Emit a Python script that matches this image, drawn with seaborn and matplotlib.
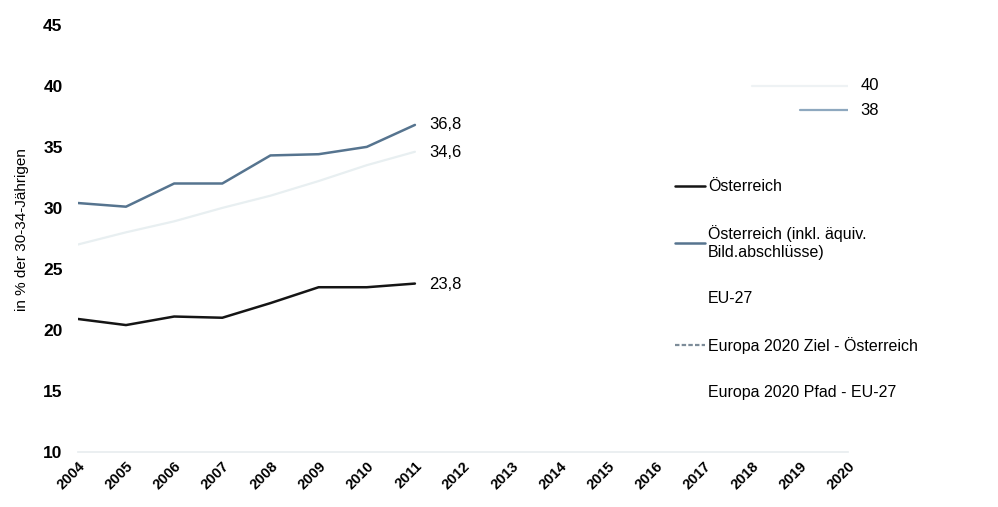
import pandas as pd
import seaborn as sns
import matplotlib.pyplot as plt
from matplotlib.lines import Line2D

# Werte
jahre = list(range(2004, 2012))
oesterreich = [20.9, 20.4, 21.1, 21.0, 22.2, 23.5, 23.5, 23.8]
oesterreich_inkl = [30.4, 30.1, 32.0, 32.0, 34.3, 34.4, 35.0, 36.8]
eu27 = [27.0, 28.0, 28.9, 30.0, 31.0, 32.2, 33.5, 34.6]

ziel_jahre = [2019, 2020]
ziel_oesterreich = [38, 38]
pfad_jahre = [2018, 2020]
pfad_eu27 = [40, 40]

x_ticks = list(range(2004, 2021))

sns.set_theme(style="white")
plt.rcParams['font.family'] = ['Liberation Sans', 'DejaVu Sans']
plt.rcParams['text.color'] = 'black'
plt.rcParams['axes.labelcolor'] = 'black'
plt.rcParams['xtick.color'] = 'black'
plt.rcParams['ytick.color'] = 'black'

fig = plt.figure(figsize=(9.98, 5.07), dpi=100)
ax = fig.add_axes([0.078, 0.1085, 0.772, 0.8425])

# gedaempfte Linien zuerst
sns.lineplot(x=jahre, y=eu27, ax=ax, color='#e8eff1', lw=1.6)
sns.lineplot(x=pfad_jahre, y=pfad_eu27, ax=ax, color='#eef2f4', lw=1.6)
sns.lineplot(x=ziel_jahre, y=ziel_oesterreich, ax=ax, color='#8ea8bf', lw=1.6)
sns.lineplot(x=jahre, y=oesterreich_inkl, ax=ax, color='#56748f', lw=1.8)
sns.lineplot(x=jahre, y=oesterreich, ax=ax, color='#151515', lw=1.8)

# Endwerte beschriften
ax.text(jahre[-1] + 0.3, oesterreich_inkl[-1], '36,8', fontsize=12, va='center')
ax.text(jahre[-1] + 0.3, eu27[-1] - 0.1, '34,6', fontsize=12, va='center')
ax.text(jahre[-1] + 0.3, oesterreich[-1] - 0.1, '23,8', fontsize=12, va='center')
ax.text(ziel_jahre[-1] + 0.25, pfad_eu27[-1], '40', fontsize=12, va='center')
ax.text(ziel_jahre[-1] + 0.25, ziel_oesterreich[-1], '38', fontsize=12, va='center')

ax.set_xlim(2004, 2020)
ax.set_ylim(10, 45)
ax.set_yticks(range(10, 46, 5))
ax.set_xticks(x_ticks)
ax.set_xticklabels([str(j) for j in x_ticks], rotation=45, ha='right',
                   rotation_mode='anchor', fontsize=10.5, fontweight='bold')
ax.tick_params(axis='y', labelsize=12.5, pad=11, length=0)
ax.tick_params(axis='x', pad=5, length=0)
for lbl in ax.get_yticklabels():
    lbl.set_fontweight('semibold')
ax.set_ylabel('in % der 30-34-Jährigen', fontsize=11)
ax.yaxis.set_label_coords(-0.063, 0.52)

for s in ['top', 'right', 'left']:
    ax.spines[s].set_visible(False)
ax.spines['bottom'].set_color('#e8edf0')

# Legende mit eigenen Platzhaltern
labels = ['Österreich', 'Österreich (inkl. äquiv.\nBild.abschlüsse)', 'EU-27',
          'Europa 2020 Ziel - Österreich', 'Europa 2020 Pfad - EU-27']
hs = [Line2D([], [], color='#151515', lw=1.8),
      Line2D([], [], color='#56748f', lw=1.8),
      Line2D([], [], color='white', lw=0),
      Line2D([], [], color='#7d8c99', lw=1.6, ls=(0, (2, 1))),
      Line2D([], [], color='white', lw=0)]
fig.legend(hs, labels, loc='upper left', bbox_to_anchor=(0.662, 0.675),
           frameon=False, fontsize=11.5, handlelength=1.9, handletextpad=0.15,
           labelspacing=1.95)

fig.savefig('out.png', dpi=100)
